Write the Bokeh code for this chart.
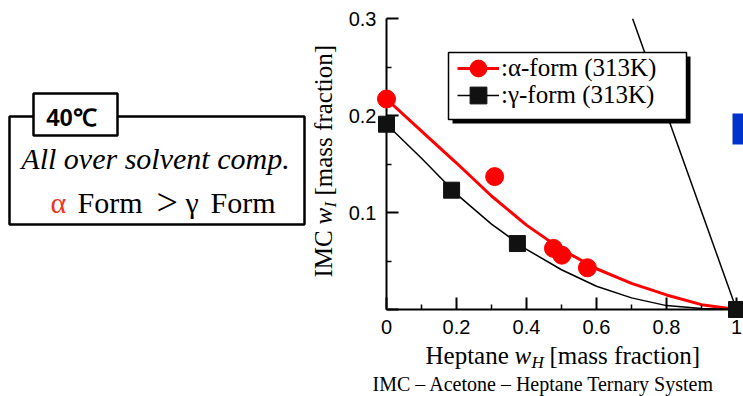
import math
from bokeh.plotting import figure
from bokeh.models import Legend, LegendItem, FixedTicker
from bokeh.core.properties import value
from bokeh.embed import file_html
from bokeh.resources import INLINE

# ---------------- data ----------------
alpha_x = [0.0, 0.309, 0.477, 0.501, 0.574]
alpha_y = [0.217, 0.137, 0.063, 0.056, 0.043]

gamma_x = [0.0, 0.186, 0.374, 1.0]
gamma_y = [0.191, 0.123, 0.068, 0.0]

alpha_fit_x = [0.0, 0.1, 0.2, 0.3, 0.4, 0.5, 0.6, 0.7, 0.8, 0.9, 1.0]
alpha_fit_y = [0.217, 0.184, 0.151, 0.117, 0.087, 0.062, 0.042, 0.027, 0.015, 0.005, 0.0]

gamma_fit_x = [0.0, 0.1, 0.2, 0.3, 0.4, 0.5, 0.6, 0.7, 0.8, 0.9, 1.0]
gamma_fit_y = [0.191, 0.156, 0.119, 0.088, 0.062, 0.041, 0.024, 0.012, 0.004, 0.001, 0.0]

tie_x = [0.703, 1.0]
tie_y = [0.3, 0.0]

x_ticks = [0.0, 0.2, 0.4, 0.6, 0.8, 1.0]
x_tick_labels = ["0", "0.2", "0.4", "0.6", "0.8", "1"]
x_minor = [0.1, 0.3, 0.5, 0.7, 0.9]
y_ticks = [0.0, 0.1, 0.2, 0.3]
y_tick_labels = ["", "0.1", "0.2", "0.3"]
y_minor = [0.05, 0.15, 0.25]

alpha_label = ":\u03b1-form (313K)"
gamma_label = ":\u03b3-form (313K)"

# ---------------- layout (picture pixels) ----------------
W, H = 743, 396
PX0, PX1 = 386, 736     # x = 0 / x = 1
PY0, PY3 = 309, 18      # y = 0 / y = 0.3
FL, FR, FT, FB = PX0, W - PX1, PY3, H - PY0


def dx(px):
    return (px - PX0) / (PX1 - PX0)


def dy(py):
    return (PY0 - py) * 0.3 / (PY0 - PY3)


SERIF = "Liberation Serif"
SANS = "Liberation Sans"

p = figure(width=W, height=H, x_range=(0, 1), y_range=(0, 0.3),
           output_backend="svg", toolbar_location=None,
           min_border_left=FL, min_border_right=FR,
           min_border_top=FT, min_border_bottom=FB)
p.outline_line_color = None
p.grid.visible = False
p.background_fill_color = "white"
p.border_fill_color = "white"

for ax, ticks, minor, labels in ((p.xaxis[0], x_ticks, x_minor, x_tick_labels),
                                 (p.yaxis[0], y_ticks, y_minor, y_tick_labels)):
    ax.ticker = FixedTicker(ticks=ticks, minor_ticks=minor)
    ax.major_label_overrides = dict(zip(ticks, labels))
    ax.axis_line_width = 2
    ax.axis_line_color = "black"
    ax.major_tick_in = 12
    ax.major_tick_out = 0
    ax.minor_tick_in = 5
    ax.minor_tick_out = 0
    ax.major_tick_line_width = 2
    ax.minor_tick_line_width = 1.5
    ax.major_tick_line_color = "black"
    ax.minor_tick_line_color = "black"
    ax.major_label_text_font = SANS
    ax.major_label_text_font_size = "20px"
    ax.major_label_text_color = "black"
p.xaxis.major_label_standoff = 10
p.yaxis.major_label_standoff = 10

# tie line (behind the legend box)
p.line(tie_x, tie_y, line_color="black", line_width=1.5)

# legend box with shadow (decoration)
p.quad(left=dx(452), right=dx(690), top=dy(56), bottom=dy(123),
       fill_color="black", line_color=None)
p.quad(left=dx(448), right=dx(686), top=dy(52), bottom=dy(119),
       fill_color="white", line_color="black", line_width=1.5)

# fitted curves
r_afit = p.line(alpha_fit_x, alpha_fit_y, line_color="#ff0000", line_width=3)
r_gfit = p.line(gamma_fit_x, gamma_fit_y, line_color="black", line_width=1.5)

# points
r_apts = p.scatter(alpha_x, alpha_y, marker="circle", size=18,
                   fill_color="#ff0000", line_color="#ff0000", level="overlay")
r_gpts = p.scatter(gamma_x, gamma_y, marker="square", size=16,
                   fill_color="#111111", line_color="#111111", level="overlay")

# one legend per row so that the markers can be large (legend marker = 0.4 * glyph box)
GW = 42
for lbl, rends, row_cy in ((alpha_label, [r_afit, r_apts], 68),
                           (gamma_label, [r_gfit, r_gpts], 95)):
    lg = Legend(items=[LegendItem(label=lbl, renderers=rends)],
                location=(457 - PX0, PY0 - (row_cy + GW // 2)), margin=0, padding=0,
                spacing=0, glyph_width=GW, glyph_height=GW, label_height=27,
                label_standoff=2,
                border_line_color=None, background_fill_alpha=0.0,
                label_text_font=SERIF, label_text_font_size="25px",
                label_text_color="black")
    p.add_layout(lg, "center")

# blue fragment at the right edge (decoration)
p.quad(left=dx(732), right=dx(745), top=dy(113), bottom=dy(144),
       fill_color="#0033cc", line_color=None, level="guide")

# annotation box
p.quad(left=dx(9), right=dx(304), top=dy(116), bottom=dy(224),
       fill_color="white", line_color="black", line_width=2.5, level="guide")
p.quad(left=dx(33), right=dx(117), top=dy(93), bottom=dy(135),
       fill_color="white", line_color="black", line_width=2.5, level="guide")

SHIFT = 0.34  # text glyph baseline correction (em)


def lab(text, px, py, size, font=SERIF, style="normal", color="black",
        align="left", angle=0.0):
    if angle:
        px = px - SHIFT * size
    else:
        py = py - SHIFT * size
    p.text(x=[dx(px)], y=[dy(py)], text=[text], text_font=value(font),
           text_font_size=f"{size}px", text_font_style=style,
           text_color=color, text_align=align,
           text_baseline="alphabetic", angle=angle, level="overlay")


lab("40\u2103", 71, 125, 24, font=SANS, style="bold", align="center")
lab("All over solvent comp.", 155, 168, 30, style="italic", align="center")
lab("\u03b1", 50, 212, 30, color="#ee3322")
lab("Form", 77, 212, 30)
lab(">", 156, 214, 38)
lab("\u03b3", 185, 212, 30)
lab("Form", 210, 212, 30)

# x axis title
lab("Heptane", 425, 363, 25)
lab("w", 514, 363, 25, style="italic")
lab("H", 531, 368, 17, style="italic")
lab("[mass fraction]", 549, 363, 25)

# y axis title (rotated)
A = math.pi / 2
lab("IMC", 331, 277, 25, angle=A)
lab("w", 331, 224, 25, style="italic", angle=A)
lab("I", 336, 207, 17, style="italic", angle=A)
lab("[mass fraction]", 331, 195, 25, angle=A)

# caption
lab("IMC \u2013 Acetone \u2013 Heptane Ternary System", 543, 390, 20, align="center")

open("out.html", "w").write(file_html(p, INLINE))
